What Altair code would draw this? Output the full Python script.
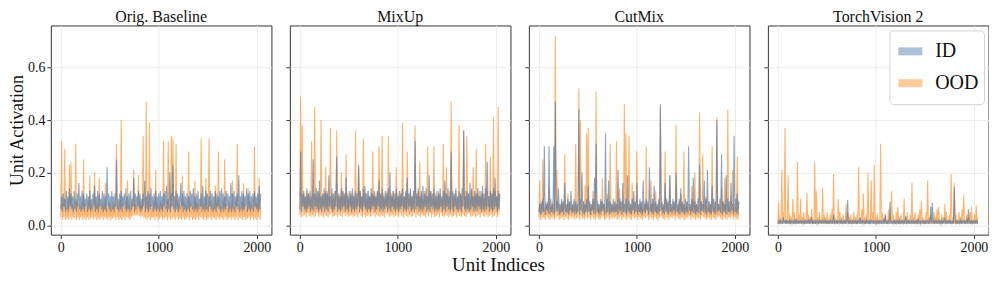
import altair as alt
import pandas as pd

# unit indices: lower-envelope samples and upper-envelope samples interleave
LO_UNITS = list(range(0, 2048, 16))
HI_UNITS = list(range(8, 2048, 16))

PANELS = ["Orig. Baseline", "MixUp", "CutMix", "TorchVision 2"]
SERIES = ["ID", "OOD"]
TICKS_X = [0, 1000, 2000]
TICKS_Y = [0.0, 0.2, 0.4, 0.6]

# ---------------- Orig. Baseline ----------------
P1_ID_HI = [
    0.11, 0.12, 0.10, 0.13, 0.11, 0.14, 0.12, 0.11, 0.13, 0.10, 0.12, 0.16, 0.11, 0.13, 0.12, 0.10,
    0.12, 0.11, 0.13, 0.10, 0.12, 0.15, 0.11, 0.13, 0.12, 0.10, 0.13, 0.12, 0.11, 0.22, 0.12, 0.11,
    0.13, 0.11, 0.12, 0.25, 0.10, 0.12, 0.13, 0.11, 0.12, 0.14, 0.11, 0.12, 0.13, 0.10, 0.18, 0.12,
    0.11, 0.13, 0.12, 0.10, 0.12, 0.17, 0.11, 0.13, 0.12, 0.14, 0.11, 0.12, 0.13, 0.11, 0.12, 0.13,
    0.11, 0.12, 0.13, 0.15, 0.10, 0.20, 0.12, 0.23, 0.11, 0.13, 0.12, 0.11, 0.16, 0.12, 0.13, 0.11,
    0.12, 0.11, 0.13, 0.12, 0.14, 0.11, 0.12, 0.13, 0.10, 0.12, 0.15, 0.11, 0.13, 0.12, 0.11, 0.13,
    0.12, 0.11, 0.13, 0.12, 0.11, 0.13, 0.14, 0.12, 0.11, 0.13, 0.12, 0.11, 0.16, 0.12, 0.13, 0.11,
    0.12, 0.19, 0.11, 0.13, 0.12, 0.11, 0.14, 0.12, 0.13, 0.11, 0.12, 0.13, 0.11, 0.12, 0.15, 0.12,
]
P1_ID_LO = [
    0.06, 0.05, 0.07, 0.05, 0.06, 0.05, 0.07, 0.06, 0.05, 0.06, 0.05, 0.07, 0.06, 0.05, 0.06, 0.05,
    0.07, 0.05, 0.06, 0.05, 0.06, 0.07, 0.05, 0.06, 0.05, 0.07, 0.06, 0.05, 0.06, 0.05, 0.07, 0.06,
    0.05, 0.06, 0.05, 0.07, 0.06, 0.05, 0.06, 0.05, 0.07, 0.06, 0.05, 0.06, 0.05, 0.06, 0.07, 0.05,
    0.06, 0.07, 0.06, 0.05, 0.06, 0.07, 0.05, 0.06, 0.05, 0.06, 0.07, 0.05, 0.06, 0.05, 0.06, 0.05,
    0.06, 0.05, 0.07, 0.06, 0.05, 0.06, 0.05, 0.07, 0.06, 0.05, 0.06, 0.05, 0.06, 0.07, 0.05, 0.06,
    0.05, 0.06, 0.05, 0.07, 0.06, 0.05, 0.06, 0.05, 0.06, 0.07, 0.05, 0.06, 0.05, 0.06, 0.05, 0.07,
    0.06, 0.05, 0.06, 0.05, 0.07, 0.06, 0.05, 0.06, 0.05, 0.06, 0.07, 0.05, 0.06, 0.05, 0.06, 0.05,
    0.07, 0.06, 0.05, 0.06, 0.05, 0.06, 0.07, 0.05, 0.06, 0.05, 0.06, 0.05, 0.07, 0.06, 0.05, 0.06,
]
P1_OOD_HI = [
    0.32, 0.08, 0.29, 0.07, 0.09, 0.23, 0.24, 0.08, 0.07, 0.31, 0.09, 0.08, 0.07, 0.09, 0.25, 0.08,
    0.07, 0.09, 0.19, 0.08, 0.07, 0.20, 0.09, 0.08, 0.18, 0.07, 0.09, 0.08, 0.16, 0.07, 0.09, 0.08,
    0.07, 0.09, 0.08, 0.31, 0.07, 0.09, 0.40, 0.08, 0.07, 0.09, 0.17, 0.08, 0.07, 0.09, 0.21, 0.08,
    0.07, 0.19, 0.09, 0.08, 0.34, 0.07, 0.47, 0.09, 0.39, 0.08, 0.07, 0.09, 0.21, 0.08, 0.07, 0.09,
    0.08, 0.32, 0.07, 0.09, 0.32, 0.08, 0.34, 0.33, 0.07, 0.31, 0.09, 0.08, 0.07, 0.19, 0.09, 0.08,
    0.07, 0.28, 0.09, 0.08, 0.07, 0.17, 0.09, 0.08, 0.07, 0.33, 0.09, 0.08, 0.18, 0.07, 0.33, 0.09,
    0.08, 0.07, 0.15, 0.09, 0.28, 0.08, 0.07, 0.09, 0.25, 0.08, 0.07, 0.09, 0.08, 0.17, 0.07, 0.09,
    0.31, 0.08, 0.07, 0.09, 0.16, 0.08, 0.07, 0.14, 0.09, 0.08, 0.07, 0.30, 0.09, 0.08, 0.18, 0.07,
]
P1_OOD_LO = [
    0.03, 0.02, 0.03, 0.02, 0.025, 0.02, 0.03, 0.02, 0.03, 0.025, 0.02, 0.03, 0.02, 0.03, 0.02, 0.025,
    0.02, 0.03, 0.02, 0.025, 0.03, 0.02, 0.03, 0.02, 0.025, 0.02, 0.03, 0.02, 0.03, 0.025, 0.02, 0.03,
    0.02, 0.025, 0.03, 0.02, 0.03, 0.02, 0.025, 0.02, 0.03, 0.02, 0.03, 0.025, 0.02, 0.03, 0.035, 0.04,
    0.035, 0.04, 0.035, 0.03, 0.035, 0.03, 0.025, 0.02, 0.03, 0.02, 0.025, 0.03, 0.02, 0.03, 0.02, 0.025,
    0.03, 0.02, 0.025, 0.03, 0.02, 0.03, 0.02, 0.025, 0.03, 0.02, 0.03, 0.02, 0.025, 0.02, 0.03, 0.02,
    0.025, 0.03, 0.02, 0.03, 0.02, 0.025, 0.02, 0.03, 0.02, 0.03, 0.025, 0.02, 0.03, 0.02, 0.025, 0.03,
    0.02, 0.03, 0.025, 0.02, 0.03, 0.02, 0.03, 0.025, 0.02, 0.03, 0.02, 0.025, 0.03, 0.02, 0.03, 0.02,
    0.03, 0.02, 0.03, 0.025, 0.02, 0.03, 0.02, 0.025, 0.03, 0.02, 0.03, 0.02, 0.025, 0.02, 0.03, 0.02,
]

# ---------------- MixUp ----------------
P2_ID_HI = [
    0.28, 0.12, 0.13, 0.11, 0.14, 0.12, 0.13, 0.11, 0.25, 0.12, 0.14, 0.13, 0.17, 0.11, 0.12, 0.14,
    0.13, 0.12, 0.19, 0.11, 0.14, 0.12, 0.13, 0.26, 0.12, 0.11, 0.14, 0.13, 0.12, 0.18, 0.11, 0.13,
    0.12, 0.14, 0.11, 0.13, 0.12, 0.23, 0.13, 0.11, 0.14, 0.15, 0.12, 0.13, 0.11, 0.14, 0.12, 0.13,
    0.11, 0.13, 0.17, 0.12, 0.14, 0.11, 0.13, 0.12, 0.14, 0.20, 0.11, 0.13, 0.12, 0.14, 0.11, 0.13,
    0.12, 0.14, 0.11, 0.13, 0.18, 0.12, 0.14, 0.11, 0.13, 0.32, 0.12, 0.14, 0.11, 0.13, 0.15, 0.12,
    0.14, 0.11, 0.19, 0.13, 0.12, 0.14, 0.11, 0.13, 0.12, 0.14, 0.11, 0.13, 0.17, 0.12, 0.14, 0.11,
    0.28, 0.13, 0.12, 0.14, 0.11, 0.13, 0.12, 0.14, 0.36, 0.11, 0.13, 0.12, 0.16, 0.14, 0.11, 0.13,
    0.12, 0.14, 0.11, 0.13, 0.15, 0.12, 0.14, 0.24, 0.11, 0.13, 0.12, 0.14, 0.18, 0.11, 0.13, 0.12,
]
P2_ID_LO = [
    0.06, 0.05, 0.07, 0.06, 0.05, 0.06, 0.07, 0.05, 0.06, 0.05, 0.07, 0.06, 0.05, 0.06, 0.05, 0.07,
    0.05, 0.06, 0.05, 0.07, 0.06, 0.05, 0.06, 0.07, 0.05, 0.06, 0.05, 0.06, 0.07, 0.05, 0.06, 0.05,
    0.07, 0.05, 0.06, 0.05, 0.06, 0.07, 0.05, 0.06, 0.05, 0.07, 0.06, 0.05, 0.06, 0.05, 0.06, 0.07,
    0.05, 0.06, 0.07, 0.05, 0.06, 0.05, 0.06, 0.07, 0.05, 0.06, 0.05, 0.07, 0.06, 0.05, 0.06, 0.05,
    0.06, 0.07, 0.05, 0.06, 0.05, 0.06, 0.07, 0.05, 0.06, 0.05, 0.06, 0.07, 0.05, 0.06, 0.05, 0.06,
    0.07, 0.05, 0.06, 0.05, 0.07, 0.06, 0.05, 0.06, 0.05, 0.06, 0.07, 0.05, 0.06, 0.05, 0.07, 0.06,
    0.05, 0.06, 0.05, 0.07, 0.06, 0.05, 0.06, 0.05, 0.07, 0.06, 0.05, 0.06, 0.05, 0.06, 0.07, 0.05,
    0.06, 0.05, 0.07, 0.06, 0.05, 0.06, 0.05, 0.06, 0.07, 0.05, 0.06, 0.05, 0.06, 0.07, 0.05, 0.06,
]
P2_OOD_HI = [
    0.49, 0.38, 0.12, 0.11, 0.13, 0.12, 0.10, 0.32, 0.12, 0.45, 0.11, 0.13, 0.12, 0.40, 0.11, 0.12,
    0.22, 0.13, 0.11, 0.37, 0.12, 0.10, 0.13, 0.36, 0.11, 0.12, 0.20, 0.13, 0.11, 0.27, 0.12, 0.10,
    0.13, 0.11, 0.12, 0.36, 0.10, 0.22, 0.13, 0.11, 0.33, 0.12, 0.10, 0.13, 0.11, 0.12, 0.28, 0.11,
    0.12, 0.13, 0.30, 0.11, 0.34, 0.12, 0.10, 0.13, 0.34, 0.11, 0.12, 0.13, 0.10, 0.22, 0.12, 0.11,
    0.13, 0.39, 0.11, 0.12, 0.28, 0.10, 0.13, 0.11, 0.12, 0.38, 0.11, 0.13, 0.24, 0.12, 0.10, 0.13,
    0.11, 0.30, 0.12, 0.13, 0.10, 0.30, 0.12, 0.11, 0.13, 0.12, 0.10, 0.31, 0.12, 0.22, 0.11, 0.13,
    0.47, 0.12, 0.11, 0.13, 0.10, 0.38, 0.12, 0.11, 0.36, 0.13, 0.34, 0.12, 0.10, 0.13, 0.22, 0.11,
    0.29, 0.12, 0.13, 0.11, 0.12, 0.10, 0.31, 0.13, 0.11, 0.26, 0.12, 0.41, 0.13, 0.11, 0.45, 0.12,
]
P2_OOD_LO = [
    0.04, 0.03, 0.035, 0.04, 0.03, 0.045, 0.035, 0.03, 0.04, 0.03, 0.035, 0.045, 0.03, 0.04, 0.035, 0.03,
    0.04, 0.035, 0.03, 0.04, 0.045, 0.03, 0.035, 0.04, 0.03, 0.04, 0.035, 0.03, 0.045, 0.035, 0.04, 0.03,
    0.035, 0.04, 0.03, 0.035, 0.04, 0.03, 0.045, 0.035, 0.03, 0.04, 0.03, 0.035, 0.04, 0.03, 0.035, 0.045,
    0.03, 0.04, 0.035, 0.03, 0.04, 0.035, 0.03, 0.045, 0.04, 0.03, 0.035, 0.04, 0.03, 0.035, 0.04, 0.03,
    0.045, 0.035, 0.03, 0.04, 0.035, 0.03, 0.04, 0.03, 0.035, 0.045, 0.03, 0.04, 0.035, 0.03, 0.04, 0.035,
    0.03, 0.04, 0.035, 0.045, 0.03, 0.04, 0.03, 0.035, 0.04, 0.03, 0.045, 0.035, 0.03, 0.04, 0.035, 0.03,
    0.04, 0.03, 0.035, 0.04, 0.03, 0.045, 0.035, 0.03, 0.04, 0.035, 0.03, 0.04, 0.045, 0.03, 0.035, 0.04,
    0.03, 0.035, 0.04, 0.03, 0.045, 0.035, 0.03, 0.04, 0.03, 0.035, 0.04, 0.03, 0.035, 0.045, 0.03, 0.04,
]

# ---------------- CutMix ----------------
P3_ID_HI = [
    0.08, 0.09, 0.10, 0.30, 0.08, 0.09, 0.30, 0.10, 0.08, 0.30, 0.47, 0.09, 0.14, 0.08, 0.10, 0.09,
    0.16, 0.08, 0.10, 0.09, 0.13, 0.08, 0.10, 0.09, 0.08, 0.44, 0.10, 0.20, 0.09, 0.08, 0.10, 0.15,
    0.09, 0.08, 0.10, 0.18, 0.31, 0.09, 0.08, 0.10, 0.09, 0.08, 0.35, 0.10, 0.17, 0.09, 0.08, 0.10,
    0.09, 0.08, 0.21, 0.10, 0.09, 0.16, 0.08, 0.10, 0.19, 0.09, 0.08, 0.10, 0.13, 0.09, 0.16, 0.08,
    0.10, 0.09, 0.17, 0.08, 0.10, 0.09, 0.22, 0.08, 0.10, 0.15, 0.09, 0.08, 0.10, 0.46, 0.09, 0.08,
    0.16, 0.10, 0.09, 0.19, 0.08, 0.10, 0.09, 0.20, 0.08, 0.10, 0.14, 0.09, 0.08, 0.10, 0.09, 0.30,
    0.08, 0.10, 0.18, 0.09, 0.08, 0.10, 0.23, 0.09, 0.08, 0.17, 0.10, 0.21, 0.09, 0.08, 0.15, 0.10,
    0.09, 0.40, 0.08, 0.10, 0.27, 0.09, 0.08, 0.19, 0.10, 0.09, 0.16, 0.08, 0.34, 0.10, 0.12, 0.09,
]
P3_ID_LO = [
    0.05, 0.04, 0.045, 0.05, 0.04, 0.055, 0.045, 0.04, 0.05, 0.045, 0.04, 0.05, 0.055, 0.04, 0.045, 0.05,
    0.04, 0.05, 0.045, 0.04, 0.055, 0.045, 0.05, 0.04, 0.045, 0.05, 0.04, 0.055, 0.045, 0.04, 0.05, 0.045,
    0.05, 0.04, 0.055, 0.045, 0.04, 0.05, 0.045, 0.04, 0.05, 0.055, 0.04, 0.045, 0.05, 0.04, 0.045, 0.05,
    0.045, 0.05, 0.04, 0.045, 0.055, 0.04, 0.05, 0.045, 0.04, 0.05, 0.045, 0.04, 0.055, 0.045, 0.05, 0.04,
    0.05, 0.045, 0.04, 0.05, 0.045, 0.055, 0.04, 0.05, 0.045, 0.04, 0.05, 0.045, 0.04, 0.05, 0.055, 0.045,
    0.04, 0.05, 0.045, 0.04, 0.05, 0.045, 0.055, 0.04, 0.05, 0.045, 0.04, 0.05, 0.045, 0.04, 0.05, 0.045,
    0.055, 0.04, 0.05, 0.045, 0.04, 0.05, 0.045, 0.04, 0.055, 0.05, 0.045, 0.04, 0.05, 0.045, 0.04, 0.05,
    0.045, 0.04, 0.05, 0.055, 0.045, 0.04, 0.05, 0.045, 0.04, 0.05, 0.045, 0.055, 0.04, 0.05, 0.045, 0.04,
]
P3_OOD_HI = [
    0.17, 0.08, 0.25, 0.07, 0.09, 0.08, 0.14, 0.07, 0.09, 0.08, 0.72, 0.21, 0.08, 0.07, 0.09, 0.08,
    0.27, 0.07, 0.12, 0.09, 0.08, 0.07, 0.09, 0.31, 0.08, 0.52, 0.40, 0.07, 0.09, 0.15, 0.35, 0.37,
    0.08, 0.07, 0.13, 0.09, 0.51, 0.08, 0.07, 0.09, 0.18, 0.08, 0.07, 0.12, 0.09, 0.31, 0.08, 0.07,
    0.09, 0.32, 0.08, 0.14, 0.07, 0.09, 0.46, 0.35, 0.08, 0.34, 0.07, 0.16, 0.09, 0.08, 0.28, 0.07,
    0.09, 0.08, 0.07, 0.09, 0.30, 0.08, 0.07, 0.17, 0.09, 0.08, 0.13, 0.07, 0.09, 0.45, 0.08, 0.07,
    0.28, 0.09, 0.08, 0.19, 0.07, 0.09, 0.08, 0.38, 0.07, 0.09, 0.12, 0.08, 0.28, 0.07, 0.09, 0.08,
    0.07, 0.15, 0.09, 0.20, 0.08, 0.07, 0.43, 0.09, 0.27, 0.08, 0.11, 0.07, 0.09, 0.08, 0.30, 0.07,
    0.09, 0.41, 0.08, 0.07, 0.14, 0.09, 0.18, 0.08, 0.44, 0.07, 0.09, 0.21, 0.08, 0.07, 0.26, 0.09,
]
P3_OOD_LO = [
    0.03, 0.02, 0.025, 0.03, 0.02, 0.035, 0.025, 0.02, 0.03, 0.025, 0.02, 0.03, 0.035, 0.02, 0.025, 0.03,
    0.02, 0.03, 0.025, 0.02, 0.035, 0.025, 0.03, 0.02, 0.025, 0.03, 0.02, 0.035, 0.025, 0.02, 0.03, 0.025,
    0.03, 0.02, 0.035, 0.025, 0.02, 0.03, 0.025, 0.02, 0.03, 0.035, 0.02, 0.025, 0.03, 0.02, 0.025, 0.03,
    0.025, 0.03, 0.02, 0.025, 0.035, 0.02, 0.03, 0.025, 0.02, 0.03, 0.025, 0.02, 0.035, 0.025, 0.03, 0.02,
    0.03, 0.025, 0.02, 0.03, 0.025, 0.035, 0.02, 0.03, 0.025, 0.02, 0.03, 0.025, 0.02, 0.03, 0.035, 0.025,
    0.02, 0.03, 0.025, 0.02, 0.03, 0.025, 0.035, 0.02, 0.03, 0.025, 0.02, 0.03, 0.025, 0.02, 0.03, 0.025,
    0.035, 0.02, 0.03, 0.025, 0.02, 0.03, 0.025, 0.02, 0.035, 0.03, 0.025, 0.02, 0.03, 0.025, 0.02, 0.03,
    0.025, 0.02, 0.03, 0.035, 0.025, 0.02, 0.03, 0.025, 0.02, 0.03, 0.025, 0.035, 0.02, 0.03, 0.025, 0.02,
]

# ---------------- TorchVision 2 ----------------
P4_ID_HI = [
    0.018, 0.020, 0.016, 0.030, 0.018, 0.020, 0.017, 0.022, 0.018, 0.016, 0.020, 0.025, 0.017, 0.018, 0.020, 0.016,
    0.018, 0.020, 0.017, 0.022, 0.016, 0.030, 0.018, 0.020, 0.017, 0.016, 0.020, 0.018, 0.022, 0.017, 0.020, 0.018,
    0.016, 0.020, 0.018, 0.040, 0.017, 0.020, 0.018, 0.016, 0.022, 0.018, 0.020, 0.017, 0.095, 0.018, 0.020, 0.016,
    0.018, 0.020, 0.017, 0.022, 0.030, 0.016, 0.020, 0.018, 0.017, 0.020, 0.016, 0.022, 0.018, 0.020, 0.017, 0.018,
    0.020, 0.016, 0.018, 0.022, 0.040, 0.017, 0.020, 0.090, 0.018, 0.016, 0.020, 0.018, 0.017, 0.022, 0.018, 0.020,
    0.016, 0.035, 0.018, 0.020, 0.017, 0.022, 0.018, 0.016, 0.020, 0.025, 0.017, 0.018, 0.020, 0.016, 0.018, 0.020,
    0.017, 0.070, 0.085, 0.018, 0.020, 0.016, 0.022, 0.018, 0.017, 0.020, 0.030, 0.018, 0.016, 0.020, 0.018, 0.017,
    0.145, 0.020, 0.018, 0.016, 0.022, 0.018, 0.020, 0.017, 0.025, 0.060, 0.018, 0.020, 0.016, 0.018, 0.020, 0.017,
]
P4_ID_LO = [
    0.005, 0.006, 0.004, 0.005, 0.007, 0.005, 0.006, 0.004, 0.005, 0.006, 0.005, 0.004, 0.006, 0.005, 0.007, 0.005,
    0.006, 0.004, 0.005, 0.006, 0.005, 0.007, 0.004, 0.005, 0.006, 0.005, 0.004, 0.006, 0.005, 0.007, 0.005, 0.006,
    0.004, 0.005, 0.006, 0.005, 0.004, 0.006, 0.005, 0.007, 0.005, 0.004, 0.006, 0.005, 0.006, 0.004, 0.005, 0.007,
    0.005, 0.006, 0.004, 0.005, 0.006, 0.005, 0.007, 0.004, 0.005, 0.006, 0.005, 0.004, 0.006, 0.005, 0.004, 0.006,
    0.005, 0.007, 0.005, 0.004, 0.006, 0.005, 0.004, 0.006, 0.005, 0.007, 0.004, 0.005, 0.006, 0.005, 0.004, 0.006,
    0.007, 0.005, 0.004, 0.006, 0.005, 0.004, 0.006, 0.005, 0.007, 0.005, 0.004, 0.006, 0.005, 0.006, 0.004, 0.005,
    0.006, 0.005, 0.007, 0.004, 0.005, 0.006, 0.005, 0.004, 0.006, 0.005, 0.007, 0.004, 0.005, 0.006, 0.005, 0.004,
    0.005, 0.006, 0.004, 0.005, 0.007, 0.005, 0.006, 0.004, 0.005, 0.006, 0.005, 0.004, 0.007, 0.005, 0.006, 0.005,
]
P4_OOD_HI = [
    0.084, 0.030, 0.210, 0.050, 0.370, 0.020, 0.190, 0.040, 0.030, 0.100, 0.050, 0.020, 0.240, 0.040, 0.100, 0.030,
    0.050, 0.020, 0.120, 0.040, 0.030, 0.060, 0.020, 0.240, 0.130, 0.030, 0.050, 0.020, 0.140, 0.040, 0.030, 0.050,
    0.020, 0.040, 0.060, 0.195, 0.030, 0.020, 0.100, 0.050, 0.030, 0.040, 0.020, 0.080, 0.050, 0.030, 0.040, 0.020,
    0.050, 0.030, 0.040, 0.220, 0.020, 0.060, 0.120, 0.030, 0.040, 0.200, 0.020, 0.170, 0.050, 0.230, 0.030, 0.040,
    0.020, 0.310, 0.050, 0.030, 0.040, 0.020, 0.060, 0.030, 0.130, 0.040, 0.020, 0.050, 0.070, 0.030, 0.040, 0.020,
    0.100, 0.030, 0.050, 0.020, 0.040, 0.160, 0.030, 0.050, 0.020, 0.040, 0.060, 0.090, 0.030, 0.020, 0.050, 0.170,
    0.030, 0.040, 0.020, 0.050, 0.030, 0.060, 0.070, 0.020, 0.040, 0.030, 0.080, 0.050, 0.020, 0.040, 0.195, 0.030,
    0.160, 0.040, 0.020, 0.050, 0.030, 0.060, 0.115, 0.020, 0.040, 0.030, 0.050, 0.070, 0.020, 0.040, 0.075, 0.030,
]
P4_OOD_LO = [
    0.005, 0.004, 0.006, 0.005, 0.007, 0.004, 0.005, 0.006, 0.004, 0.005, 0.007, 0.005, 0.004, 0.006, 0.005, 0.004,
    0.006, 0.005, 0.004, 0.007, 0.005, 0.004, 0.006, 0.005, 0.004, 0.006, 0.005, 0.007, 0.004, 0.005, 0.006, 0.004,
    0.005, 0.007, 0.004, 0.005, 0.006, 0.004, 0.005, 0.006, 0.007, 0.004, 0.005, 0.006, 0.004, 0.005, 0.007, 0.005,
    0.004, 0.006, 0.005, 0.004, 0.007, 0.005, 0.006, 0.004, 0.005, 0.006, 0.004, 0.005, 0.007, 0.004, 0.006, 0.005,
    0.006, 0.004, 0.005, 0.007, 0.004, 0.006, 0.005, 0.004, 0.006, 0.005, 0.007, 0.004, 0.005, 0.006, 0.004, 0.005,
    0.004, 0.006, 0.005, 0.004, 0.007, 0.005, 0.004, 0.006, 0.005, 0.004, 0.006, 0.005, 0.007, 0.004, 0.005, 0.006,
    0.005, 0.004, 0.006, 0.005, 0.004, 0.007, 0.005, 0.006, 0.004, 0.005, 0.006, 0.004, 0.005, 0.007, 0.004, 0.005,
    0.006, 0.005, 0.004, 0.006, 0.005, 0.004, 0.007, 0.005, 0.006, 0.004, 0.005, 0.006, 0.004, 0.005, 0.007, 0.004,
]

FONT = "Liberation Serif"
COLORS = ["#4a75a5", "#ff8a1f"]
W, H = 221.5, 210


def table(id_lo, id_hi, ood_lo, ood_hi):
    rows = []
    for split, lo, hi in (("ID", id_lo, id_hi), ("OOD", ood_lo, ood_hi)):
        for u, v in zip(LO_UNITS, lo):
            rows.append({"unit": u, "act": v, "split": split})
        for u, v in zip(HI_UNITS, hi):
            rows.append({"unit": u, "act": v, "split": split})
    return pd.DataFrame(rows).sort_values(["split", "unit"])


def panel(title, arrays, first, show_legend):
    df = table(*arrays)
    cscale = alt.Scale(domain=SERIES, range=COLORS)
    if show_legend:
        color = alt.Color(
            "split:N", scale=cscale,
            legend=alt.Legend(
                title=None, orient="top-right", offset=5, padding=5,
                fillColor="white", strokeColor="#d4d4d4", cornerRadius=4,
                labelFont=FONT, labelFontSize=20, labelColor="#111",
                symbolType="stroke", symbolSize=576, symbolStrokeWidth=8,
                symbolOpacity=0.45, rowPadding=-7, labelOffset=9,
            ),
        )
    else:
        color = alt.Color("split:N", scale=cscale, legend=None)
    x = alt.X(
        "unit:Q",
        scale=alt.Scale(domain=[-102, 2149], nice=False, zero=False),
        axis=alt.Axis(values=TICKS_X, format="d", title=""),
    )
    y = alt.Y(
        "act:Q",
        scale=alt.Scale(domain=[-0.036, 0.76], nice=False, zero=False),
        axis=alt.Axis(
            values=TICKS_Y, format=".1f",
            title="Unit Activation" if first else "",
            labels=first,
        ),
    )
    base = alt.Chart(df)
    ood = base.transform_filter("datum.split == 'OOD'").mark_line(
        strokeWidth=1.1, opacity=0.65, clip=True
    ).encode(x=x, y=y, color=color)
    idl = base.transform_filter("datum.split == 'ID'").mark_line(
        strokeWidth=1.1, opacity=0.65, clip=True
    ).encode(x=x, y=y, color=color)
    return alt.layer(ood, idl).properties(
        width=W, height=H,
        title=alt.TitleParams(title, font=FONT, fontSize=16, fontWeight="normal",
                              color="#111", offset=0),
    )


data = [
    (P1_ID_LO, P1_ID_HI, P1_OOD_LO, P1_OOD_HI),
    (P2_ID_LO, P2_ID_HI, P2_OOD_LO, P2_OOD_HI),
    (P3_ID_LO, P3_ID_HI, P3_OOD_LO, P3_OOD_HI),
    (P4_ID_LO, P4_ID_HI, P4_OOD_LO, P4_OOD_HI),
]
panels = [panel(PANELS[i], data[i], i == 0, i == 3) for i in range(4)]

chart = (
    alt.hconcat(*panels, spacing=13)
    .resolve_scale(color="independent")
    .properties(
        title=alt.TitleParams(
            "Unit Indices", orient="bottom", anchor="middle",
            font=FONT, fontSize=19, fontWeight="normal", color="#111", offset=1,
        ),
        padding={"left": 0, "top": 0, "right": 0, "bottom": 0},
    )
    .configure_view(stroke="#333333", strokeWidth=1)
    .configure_axis(
        domain=False, grid=True, gridColor="#ebebeb", gridWidth=1,
        tickColor="#333333", tickSize=4, labelFont=FONT, labelFontSize=14,
        labelColor="#111", labelPadding=2, titleFont=FONT, titleFontSize=18,
        titleFontWeight="normal", titleColor="#111", titlePadding=1,
    )
)

chart.save("out.html", embed_options={"renderer": "svg", "actions": False})
